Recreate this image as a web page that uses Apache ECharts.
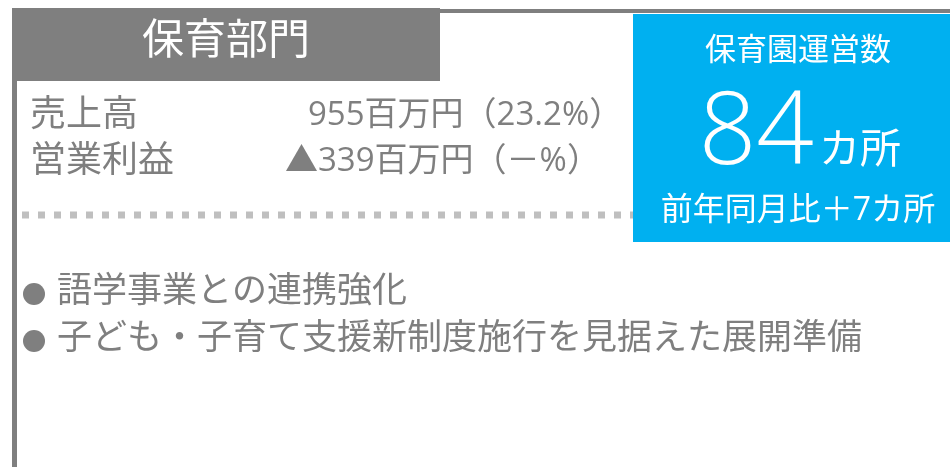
<!DOCTYPE html>
<html>
<head>
<meta charset="utf-8">
<script src="https://cdn.jsdelivr.net/npm/echarts@6/dist/echarts.min.js"></script>
<style>
  html, body { margin: 0; padding: 0; background: #fff; }
  #chart { width: 950px; height: 467px; }
</style>
</head>
<body>
<div id="chart"></div>
<script>
// 数値データ
const segmentName = '保育部門';
const metricLabels = ['売上高', '営業利益'];
const metricAmounts = [955, -339];          // 百万円
const metricGrowth = ['23.2%', '－%'];      // 前年同期比
const facilityLabel = '保育園運営数';
const facilityCount = 84;
const facilityYoY = 7;
const highlights = ['語学事業との連携強化', '子ども・子育て支援新制度施行を見据えた展開準備'];

// レイアウト
const GRAY = '#7f7f7f';
const BLUE = '#00b0f0';
const JP = "'Open Sans', 'Noto Sans CJK JP', sans-serif";
const rowY = [116, 162];
const valueX = [308, 285];
const bulletY = [292, 339];

const fmtAmount = (v) => (v < 0 ? '▲' + Math.abs(v) : String(v)) + '百万円';

const chart = echarts.init(document.getElementById('chart'), null, { renderer: 'canvas' });

const elements = [
  // 枠線
  { type: 'rect', shape: { x: 440, y: 9, width: 510, height: 4 }, style: { fill: GRAY } },
  { type: 'rect', shape: { x: 12, y: 80, width: 5, height: 400 }, style: { fill: GRAY } },
  // タイトル
  { type: 'rect', shape: { x: 12, y: 8, width: 428, height: 73 }, style: { fill: GRAY } },
  {
    type: 'text', x: 226, y: 42,
    style: { text: segmentName, fill: '#fff', font: '42px ' + JP, align: 'center', verticalAlign: 'middle' }
  },
  // 点線
  {
    type: 'line', shape: { x1: 22, y1: 215, x2: 633, y2: 215 },
    style: { stroke: '#bfbfbf', lineWidth: 7, lineDash: [7, 9] }
  },
  // 運営数ボックス
  { type: 'rect', shape: { x: 633, y: 14, width: 317, height: 228 }, style: { fill: BLUE } },
  {
    type: 'text', x: 798, y: 51,
    style: { text: facilityLabel, fill: '#fff', font: '31px ' + JP, align: 'center', verticalAlign: 'middle' }
  },
  {
    type: 'text', x: 814, y: 135,
    style: { text: String(facilityCount), fill: '#fff', font: '300 101px ' + JP, align: 'right', verticalAlign: 'middle' }
  },
  {
    type: 'text', x: 819, y: 151,
    style: { text: 'カ所', fill: '#fff', font: '41px ' + JP, align: 'left', verticalAlign: 'middle' }
  },
  {
    type: 'text', x: 798, y: 211,
    style: { text: '前年同月比＋' + facilityYoY + 'カ所', fill: '#fff', font: '32px ' + JP, align: 'center', verticalAlign: 'middle' }
  }
];

metricLabels.forEach((label, i) => {
  elements.push({
    type: 'text', x: 30, y: rowY[i],
    style: { text: label, fill: GRAY, font: '36px ' + JP, verticalAlign: 'middle' }
  });
  elements.push({
    type: 'text', x: valueX[i], y: rowY[i],
    style: {
      text: fmtAmount(metricAmounts[i]) + '（' + metricGrowth[i] + '）',
      fill: GRAY, font: '33px ' + JP, verticalAlign: 'middle'
    }
  });
});

highlights.forEach((t, i) => {
  elements.push({
    type: 'circle', shape: { cx: 34, cy: bulletY[i] + 2, r: 11 }, style: { fill: GRAY }
  });
  elements.push({
    type: 'text', x: 57, y: bulletY[i],
    style: { text: t, fill: GRAY, font: '35px ' + JP, verticalAlign: 'middle' }
  });
});

chart.setOption({
  animation: false,
  graphic: { elements: elements }
});
</script>
</body>
</html>
